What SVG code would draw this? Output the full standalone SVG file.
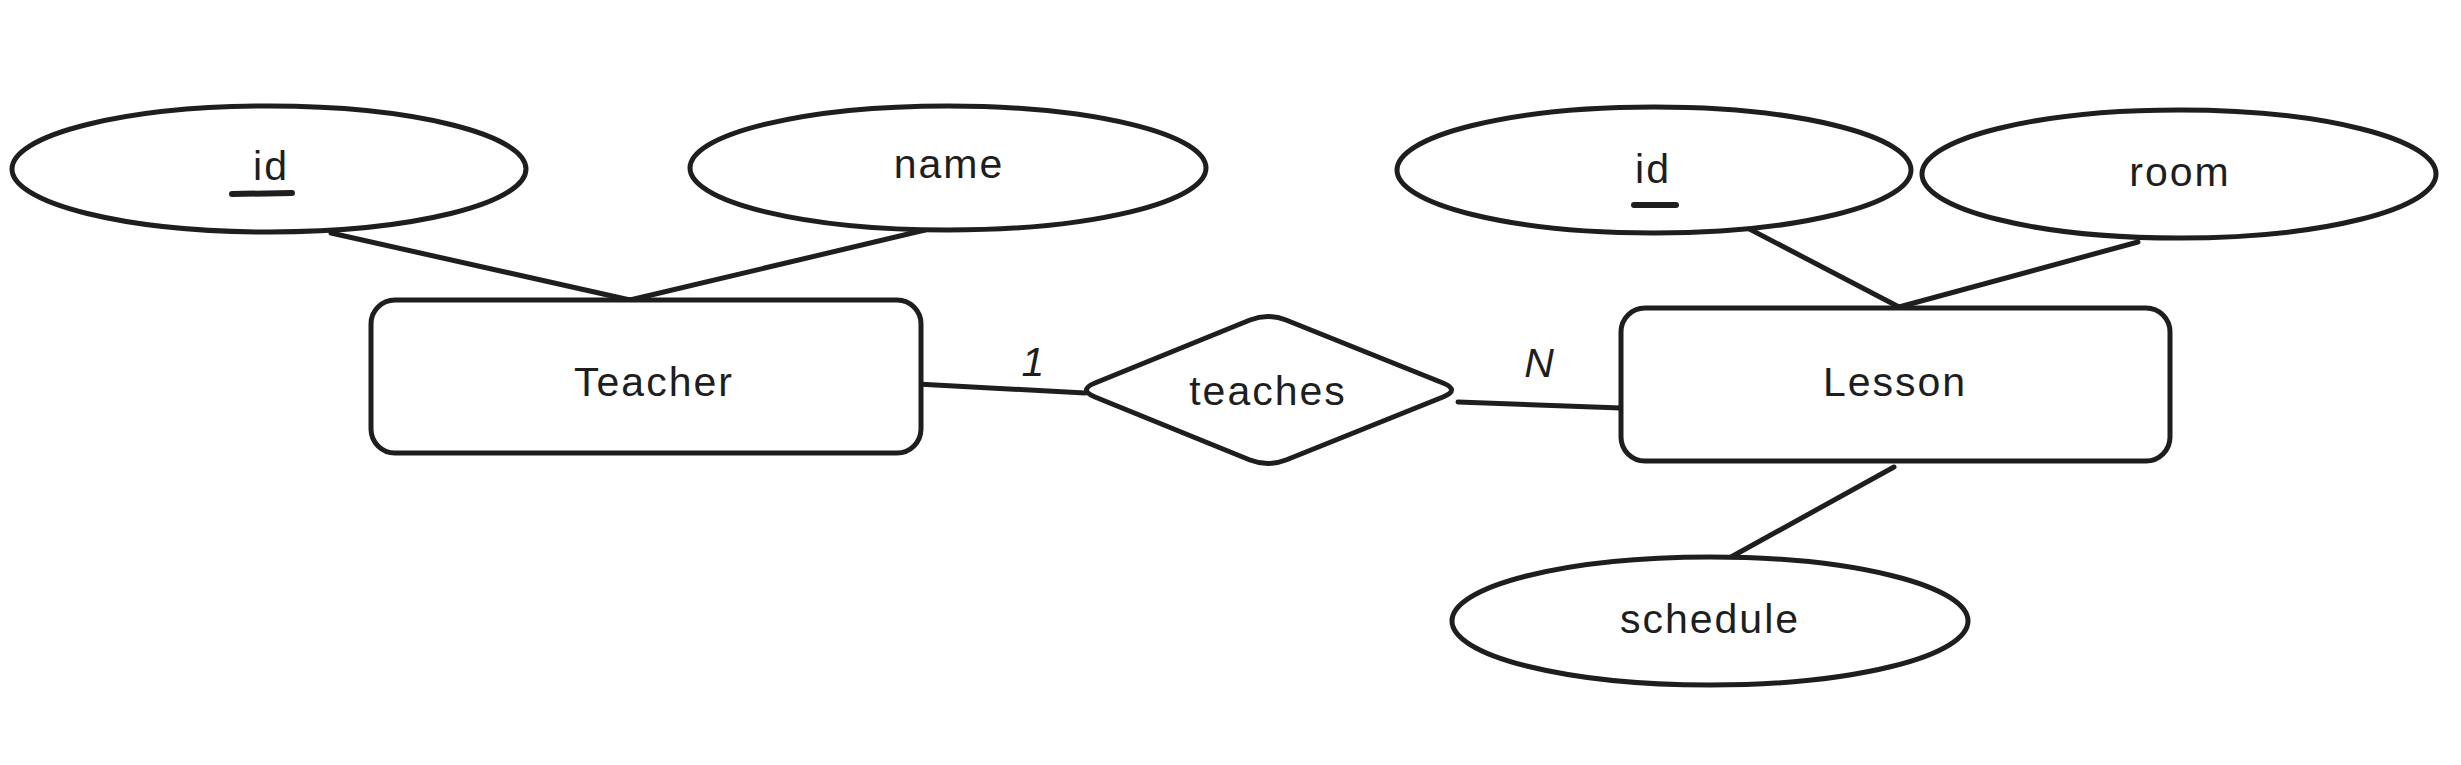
<svg xmlns="http://www.w3.org/2000/svg" width="2461" height="765" viewBox="0 0 2461 765">
<style>
.f{fill:#fff;stroke:#1e1e1e;stroke-width:5;stroke-linejoin:round}
.t{font-family:"Liberation Sans",Arial,sans-serif;font-size:41px;fill:#1e1e1e;text-anchor:middle;letter-spacing:2px}
.c{fill:none;stroke:#1e1e1e;stroke-width:5;stroke-linecap:round}
.u{stroke:#1e1e1e;stroke-width:6;stroke-linecap:round}
</style>
<rect width="2461" height="765" fill="#fff"/>
<g id="connectors">
<line class="c" x1="331" y1="233" x2="630" y2="300"/>
<line class="c" x1="925" y1="230" x2="630" y2="300"/>
<line class="c" x1="917" y1="384" x2="1085" y2="393"/>
<line class="c" x1="1458" y1="402" x2="1621" y2="408"/>
<line class="c" x1="1736" y1="222" x2="1899" y2="307"/>
<line class="c" x1="2138" y1="242" x2="1899" y2="307"/>
<line class="c" x1="1894" y1="467" x2="1731" y2="557"/>
</g>
<g id="teacher">
<rect class="f" x="371" y="300" width="550" height="153" rx="24"/>
<text class="t" x="654" y="396">Teacher</text>
</g>
<g id="teacher-id">
<ellipse class="f" cx="269" cy="169" rx="257" ry="63"/>
<text class="t" x="271" y="180">id</text>
<line class="u" x1="232" y1="194" x2="292" y2="193"/>
</g>
<g id="teacher-name">
<ellipse class="f" cx="948" cy="168" rx="258" ry="62"/>
<text class="t" x="949" y="178">name</text>
</g>
<g id="teaches">
<path class="f" d="M1250,320 Q1268,313 1286,320 L1443,383 Q1460,390 1443,397 L1286,460 Q1268,467 1250,460 L1095,397 Q1078,390 1095,383 Z"/>
<text class="t" x="1268" y="405">teaches</text>
</g>
<g id="lesson">
<rect class="f" x="1621" y="308" width="549" height="153" rx="24"/>
<text class="t" x="1895" y="396">Lesson</text>
</g>
<g id="lesson-id">
<ellipse class="f" cx="1654" cy="170" rx="257" ry="63"/>
<text class="t" x="1653" y="183">id</text>
<line class="u" x1="1634" y1="205" x2="1676" y2="205"/>
</g>
<g id="lesson-room">
<ellipse class="f" cx="2179" cy="174" rx="257" ry="64"/>
<text class="t" x="2180" y="186">room</text>
</g>
<g id="lesson-schedule">
<ellipse class="f" cx="1710" cy="621" rx="258" ry="64"/>
<text class="t" x="1710" y="633">schedule</text>
</g>
<g id="labels">
<text class="t" x="1034" y="376" font-style="italic">1</text>
<text class="t" x="1540" y="377" font-style="italic">N</text>
</g>
</svg>
